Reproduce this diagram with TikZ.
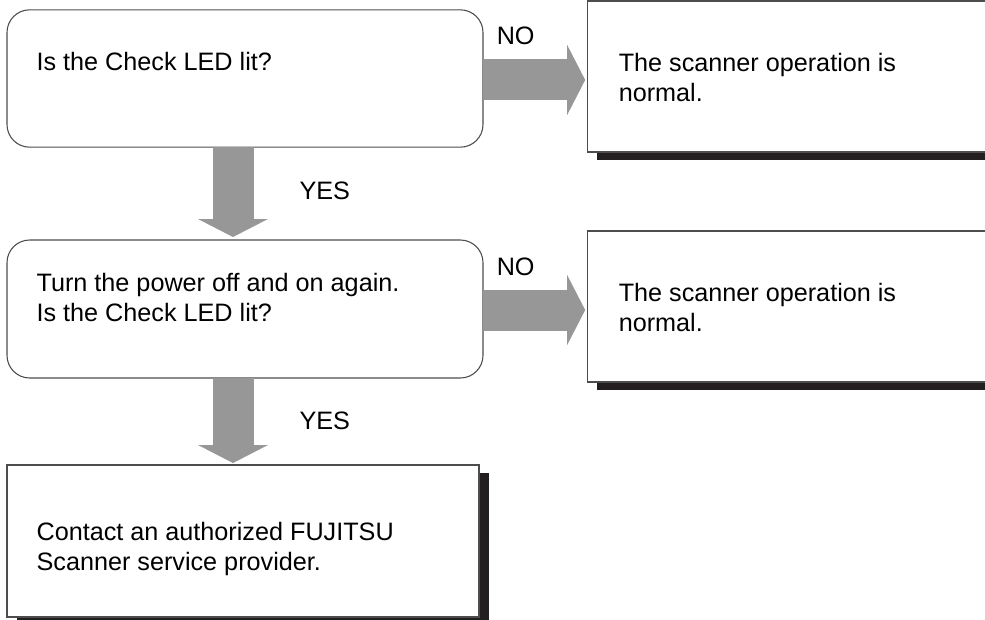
\documentclass[tikz,border=0pt]{standalone}
\usepackage{fontspec}
\setmainfont{Liberation Sans}
\usepackage{tikz}
\usetikzlibrary{positioning,arrows.meta,shadows}
\definecolor{flowgray}{HTML}{979797}
\definecolor{boxline}{HTML}{4D4D4D}
\definecolor{shadowblack}{HTML}{231F20}

\begin{document}
\begin{tikzpicture}[
  x=0.75pt, y=-0.75pt,
  font=\fontsize{18.9}{22.5}\selectfont,
  ask/.style={draw=boxline, line width=0.8pt, rounded corners=17pt, fill=white, minimum width=357pt, minimum height=103pt, inner sep=0pt, outer sep=0pt},
  ans/.style={draw=boxline, line width=0.8pt, fill=white, inner sep=0pt, outer sep=0pt, general shadow={fill=shadowblack, shadow xshift=7.5pt, shadow yshift=-6pt}},
  txt/.style={anchor=north west, align=left, inner sep=0pt},
  fatarr/.style={-{Triangle[length=13.5pt, width=52.5pt, line width=0pt]}, line width=30.75pt, draw=flowgray},
  lab/.style={inner sep=0pt, text=black},
]
  \useasboundingbox (0,0) rectangle (985,619);
  \clip (0,0) rectangle (985,619);
  \fill[white] (0,0) rectangle (985,619);
  % question boxes
  \node[ask] (q1) at (245,78.5) {};
  \node[ask, minimum height=103.5pt] (q2) at (245,309) {};
  % result boxes
  \node[ans, minimum width=317pt, minimum height=113.25pt] (ok1) at (798.5,76.5) {};
  \node[ans, minimum width=317pt, minimum height=113.25pt] (ok2) at (798.5,306.5) {};
  \node[ans, minimum width=354pt, minimum height=114pt] (contact) at (243,541) {};
  % texts
  \node[txt] (q1t) at ([xshift=22pt, yshift=-31.5pt]q1.north west) {Is the Check LED lit?};
  \node[txt] (q2t) at ([xshift=22pt, yshift=-24.75pt]q2.north west) {Turn the power off and on again.\\Is the Check LED lit?};
  \node[txt] (ok1t) at ([xshift=23.5pt, yshift=-39pt]ok1.north west) {The scanner operation is\\normal.};
  \node[txt] (ok2t) at ([xshift=23.5pt, yshift=-39pt]ok2.north west) {The scanner operation is\\normal.};
  \node[txt] (contactt) at ([xshift=22pt, yshift=-42.75pt]contact.north west) {Contact an authorized FUJITSU\\Scanner service provider.};
  % arrows
  \draw[fatarr] ([yshift=-1.1pt]q1.east) -- ([xshift=-1.5pt,yshift=-1.1pt]q1.east -| ok1.west)
    node[lab, anchor=base, pos=0.32, yshift=26.25pt] {NO};
  \draw[fatarr] ([yshift=-0.75pt]q2.east) -- ([xshift=-1.5pt,yshift=-0.75pt]q2.east -| ok2.west)
    node[lab, anchor=base, pos=0.32, yshift=26.25pt] {NO};
  \draw[fatarr] ([xshift=-9pt]q1.south) -- ([xshift=-9pt,yshift=2.25pt]q1.south |- q2.north)
    node[lab, anchor=base west, pos=0.58, xshift=34.5pt] {YES};
  \draw[fatarr] ([xshift=-9pt]q2.south) -- ([xshift=-9pt,yshift=1.5pt]q2.south |- contact.north)
    node[lab, anchor=base west, pos=0.6, xshift=34.5pt] {YES};
\end{tikzpicture}
\end{document}
